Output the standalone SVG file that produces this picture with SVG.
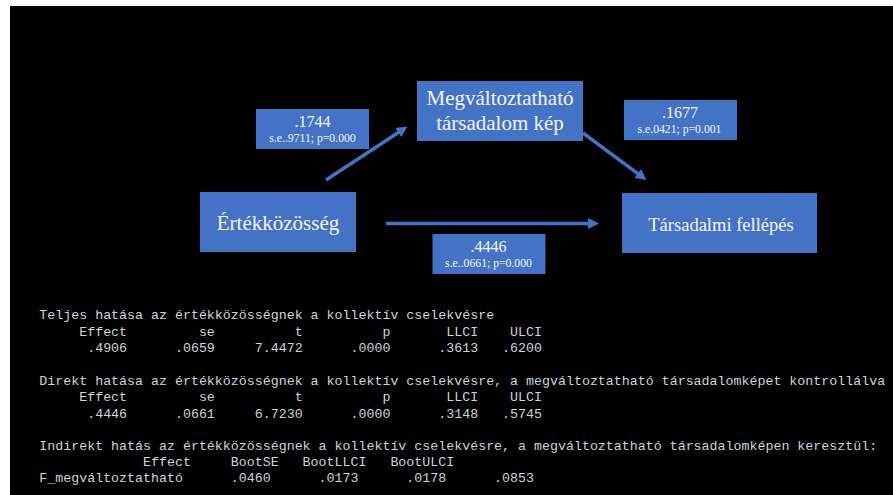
<svg xmlns="http://www.w3.org/2000/svg" width="893" height="495" viewBox="0 0 893 495">
<style>
.box{fill:#4472C4}
.big{font-family:"Liberation Serif","Times New Roman",serif;fill:#f4f4f4;text-anchor:middle}
.num{font-family:"Liberation Serif","Times New Roman",serif;fill:#f4f4f4;text-anchor:middle;font-size:16px}
.se{font-family:"Liberation Serif","Times New Roman",serif;fill:#f4f4f4;text-anchor:middle;font-size:11.7px}
.mono{font-family:"Liberation Mono","Courier New",monospace;font-size:13.3px;fill:#cdd4de;white-space:pre}
.arrow{stroke:#4472C4;stroke-width:3.5;fill:none;marker-end:url(#head)}
</style>
<defs>
<marker id="head" viewBox="0 0 11 11" refX="1" refY="5.5" markerWidth="11" markerHeight="11" markerUnits="userSpaceOnUse" orient="auto">
<path d="M0,0 L11,5.5 L0,11 z" fill="#4472C4"/>
</marker>
</defs>
<rect x="0" y="0" width="893" height="495" fill="#ffffff"/>
<rect x="10" y="6" width="883" height="489" fill="#000000"/>

<g id="connectors">
<line class="arrow" x1="326" y1="180" x2="399.1" y2="132"/>
<line class="arrow" x1="583" y1="133" x2="638.5" y2="174.1"/>
<line class="arrow" x1="386" y1="223.5" x2="589" y2="223.5"/>
</g>

<g id="node-ertekkozosseg">
<rect class="box" x="200" y="192" width="156" height="60"/>
<text class="big" x="278" y="230" font-size="21">Értékközösség</text>
</g>
<g id="node-megvaltoztathato">
<rect class="box" x="417" y="81" width="166" height="60"/>
<text class="big" x="500" y="105" font-size="21">Megváltoztatható</text>
<text class="big" x="500" y="129.5" font-size="21">társadalom kép</text>
</g>
<g id="node-tarsadalmi">
<rect class="box" x="622" y="193" width="195" height="60"/>
<text class="big" x="721" y="230.5" font-size="18.5">Társadalmi fellépés</text>
</g>
<g id="label-a">
<rect class="box" x="256" y="109" width="113" height="40"/>
<text class="num" x="312.5" y="127">.1744</text>
<text class="se" x="312.5" y="142.3">s.e..9711; p=0.000</text>
</g>
<g id="label-b">
<rect class="box" x="624" y="100" width="113" height="40"/>
<text class="num" x="680" y="118">.1677</text>
<text class="se" x="679.5" y="133">s.e.0421; p=0.001</text>
</g>
<g id="label-c">
<rect class="box" x="432.5" y="234" width="113" height="40"/>
<text class="num" x="488.5" y="252">.4446</text>
<text class="se" x="488.5" y="267">s.e..0661; p=0.000</text>
</g>

<g id="output">
<text class="mono" x="39.3" y="319" xml:space="preserve">Teljes hatása az értékközösségnek a kollektív cselekvésre</text>
<text class="mono" x="39.3" y="335.5" xml:space="preserve">     Effect         se          t          p       LLCI    ULCI</text>
<text class="mono" x="39.3" y="352" xml:space="preserve">      .4906      .0659     7.4472      .0000      .3613   .6200</text>
<text class="mono" x="39.3" y="384.5" xml:space="preserve">Direkt hatása az értékközösségnek a kollektív cselekvésre, a megváltoztatható társadalomképet kontrollálva</text>
<text class="mono" x="39.3" y="401" xml:space="preserve">     Effect         se          t          p       LLCI    ULCI</text>
<text class="mono" x="39.3" y="417.5" xml:space="preserve">      .4446      .0661     6.7230      .0000      .3148   .5745</text>
<text class="mono" x="39.3" y="449.5" xml:space="preserve">Indirekt hatás az értékközösségnek a kollektív cselekvésre, a megváltoztatható társadalomképen keresztül:</text>
<text class="mono" x="39.3" y="466" xml:space="preserve">             Effect     BootSE   BootLLCI   BootULCI</text>
<text class="mono" x="39.3" y="482" xml:space="preserve">F_megváltoztatható      .0460      .0173      .0178      .0853</text>
</g>
</svg>
